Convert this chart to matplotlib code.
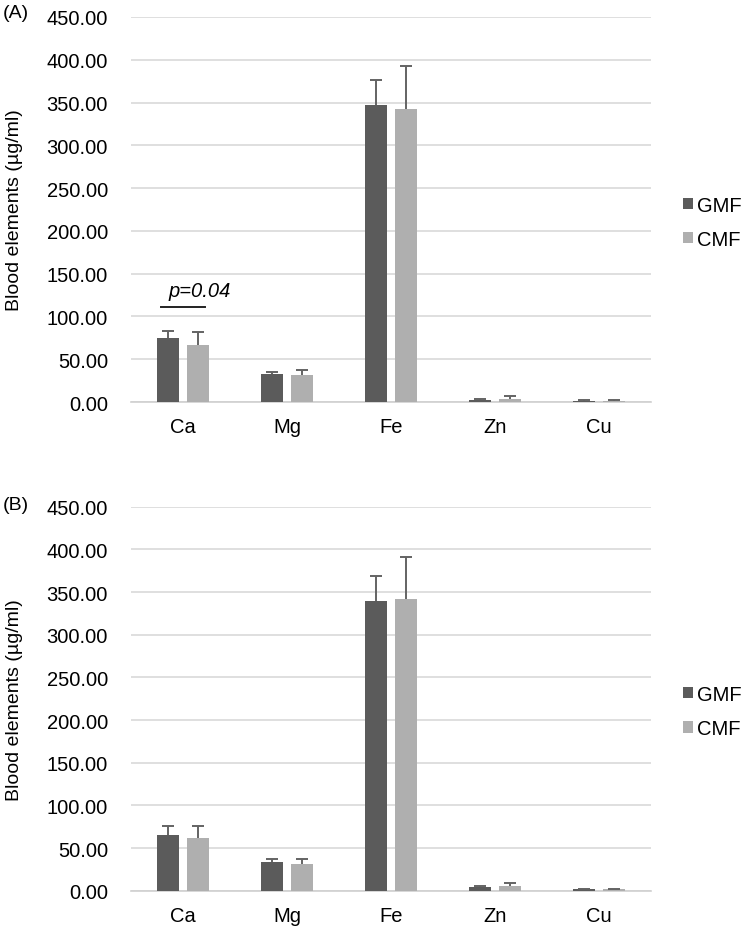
import numpy as np
import matplotlib
matplotlib.use("Agg")
import matplotlib.pyplot as plt

plt.rcParams['font.family'] = ['Liberation Sans', 'DejaVu Sans']

# Datos
elements = ["Ca", "Mg", "Fe", "Zn", "Cu"]
series = ["GMF", "CMF"]

gmf_a = [74.5, 32.4, 346.8, 2.5, 1.5]
gmf_a_err = [9.0, 3.0, 29.0, 1.0, 0.3]
cmf_a = [67.0, 32.0, 342.5, 3.5, 1.5]
cmf_a_err = [15.0, 5.0, 50.0, 4.0, 0.3]

gmf_b = [65.0, 33.3, 340.0, 4.3, 1.5]
gmf_b_err = [10.5, 3.5, 29.0, 0.8, 0.3]
cmf_b = [61.4, 31.3, 342.0, 5.9, 1.5]
cmf_b_err = [14.0, 5.5, 49.0, 3.5, 0.3]

yticks = [0, 50, 100, 150, 200, 250, 300, 350, 400, 450]

dark = "#5b5b5b"
light = "#afafaf"
err_col = "#636363"
fs = 14.5

fig = plt.figure(figsize=(7.51, 9.37), dpi=100)

panels = [
    ("(A)", [0.1744, 0.5699, 0.6924, 0.4109], gmf_a, gmf_a_err, cmf_a, cmf_a_err, 1.012),
    ("(B)", [0.1744, 0.0483, 0.6924, 0.4098], gmf_b, gmf_b_err, cmf_b, cmf_b_err, 1.006),
]

x = np.arange(len(elements))
w = 0.22
off = 0.144
ekw = dict(ecolor=err_col, elinewidth=1.4, capsize=4, capthick=1.4)

for tag, rect, g, ge, c, ce, tag_y in panels:
    ax = fig.add_axes(rect)
    for vals, errs, col, lab, sgn in [(g, ge, dark, "GMF", -1), (c, ce, light, "CMF", 1)]:
        bc = ax.bar(x + sgn * off, vals, w, color=col, label=lab, zorder=3,
                    yerr=[np.zeros(len(errs)), errs], error_kw=ekw)
        # quitar el cap inferior (solo barra hacia arriba)
        caps = bc.errorbar.lines[1]
        if len(caps) > 1:
            caps[0].remove()
    ax.set_xlim(-0.5, len(elements) - 0.5)
    ax.set_ylim(0, 450)
    ax.set_yticks(yticks)
    ax.set_yticklabels([f"{v:.2f}" for v in yticks], fontsize=fs)
    ax.set_xticks(x)
    ax.set_xticklabels(elements, fontsize=fs)
    ax.tick_params(axis="y", length=0, pad=16.5)
    ax.tick_params(axis="x", length=0, pad=11)
    ax.grid(axis="y", color="#d9d9d9", linewidth=1.2, zorder=0)
    for s in ["top", "right", "left"]:
        ax.spines[s].set_visible(False)
    ax.spines["bottom"].set_color("#d0d0d0")
    ax.spines["bottom"].set_linewidth(1.2)
    ax.set_ylabel("Blood elements (µg/ml)", fontsize=14)
    ax.yaxis.set_label_coords(-0.224, 0.5)
    ax.yaxis.label.set_va("center")
    ax.text(-0.246, tag_y, tag, transform=ax.transAxes, fontsize=14, ha="left", va="center")
    ax.legend(loc="center left", bbox_to_anchor=(1.0615, 0.467), frameon=False,
              fontsize=fs, handlelength=0.5, handleheight=0.5, handletextpad=0.2,
              labelspacing=0.75, borderpad=0, borderaxespad=0)
    if tag == "(A)":
        ax.plot([-0.212, 0.212], [111.4, 111.4], color="#222222", linewidth=1.4, zorder=4)
        ax.text(-0.135, 130, "p=0.04", fontsize=fs, style="italic", ha="left", va="center")

fig.savefig("out.png", dpi=100)
